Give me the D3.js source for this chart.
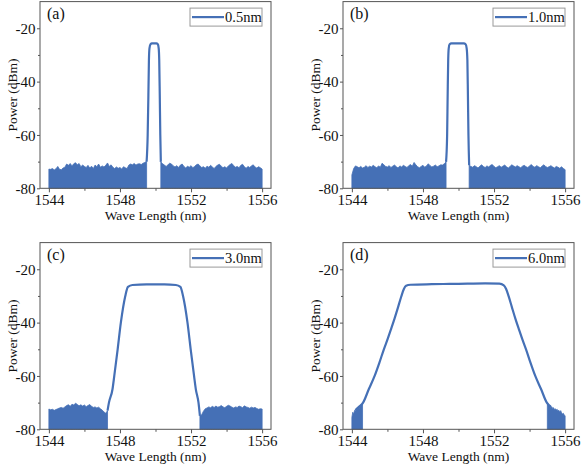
<!DOCTYPE html>
<html>
<head>
<meta charset="utf-8">
<script src="https://cdnjs.cloudflare.com/ajax/libs/d3/7.8.5/d3.min.js"></script>
<style>
    body { margin: 0; background: #fff; }
    svg text { font-family: "Liberation Serif", "Times New Roman", serif; fill: #111; }
</style>
</head>
<body>
<svg id="chart" width="581" height="468"></svg>
<script>
// Panel labels and legend names
var panelLabels = ["(a)", "(b)", "(c)", "(d)"];
var legendNames = ["0.5nm", "1.0nm", "3.0nm", "6.0nm"];

// Axis ticks
var xTicks = [1544, 1548, 1552, 1556];
var xMinor = [1546, 1550, 1554];
var yTicks = [-20, -40, -60, -80];
var yMinor = [-30, -50, -70];

// Noise floor (top of the noisy trace)
// each block: start wavelength, step, values (dBm)
var noiseA = [
    [1544.0, 0.1, [-72.8, -72.9, -72.6, -73.1, -72.7, -71.8, -72.9, -73.0, -72.4, -72.1,
        -70.9, -71.4, -70.7, -71.6, -70.8, -70.4, -71.2, -70.7, -71.9, -71.3,
        -71.8, -72.2, -71.4, -72.4, -71.7, -72.6, -71.3, -71.9, -70.9, -72.1,
        -71.6, -72.0, -71.4, -70.5, -71.8, -71.2, -72.1, -72.6, -72.0, -72.5,
        -72.2, -72.8, -71.9, -72.3, -72.6, -71.3, -70.9, -71.2, -70.7, -71.3,
        -70.9, -70.8, -71.1, -70.6, -70.3, -69.9]],
    [1550.3, 0.1, [-70.1, -70.8, -71.3, -71.8, -71.2, -70.6, -70.9, -71.6, -72.0, -71.5,
        -72.2, -71.3, -70.9, -71.8, -72.4, -71.7, -72.1, -71.5, -72.3, -71.8,
        -71.2, -70.9, -71.6, -72.2, -71.9, -72.5, -71.7, -72.1, -71.4, -72.0,
        -72.6, -71.8, -71.3, -71.0, -71.7, -72.3, -71.9, -72.4, -71.6, -71.1,
        -70.7, -71.5, -72.1, -71.8, -72.3, -71.4, -71.0, -71.9, -72.5, -71.8,
        -72.2, -71.6, -71.2, -72.0, -72.4, -71.9, -72.3, -72.8]]
];
var noiseB = [
    [1544.0, 0.1, [-75.0, -72.6, -71.6, -71.9, -72.3, -71.8, -72.4, -72.1, -71.5, -72.2,
        -71.7, -72.0, -71.4, -71.9, -72.3, -71.6, -72.1, -70.6, -71.2, -71.8,
        -72.0, -71.5, -72.2, -71.7, -71.3, -71.9, -72.4, -71.6, -72.0, -71.4,
        -71.8, -72.2, -71.5, -71.1, -71.7, -70.3, -71.2, -71.9, -72.3, -71.8,
        -71.4, -72.1, -71.6, -70.8, -71.5, -72.0, -71.7, -71.3, -71.9, -71.6,
        -71.2, -71.3, -70.8, -70.1]],
    [1550.6, 0.1, [-71.3, -71.8, -72.1, -71.5, -71.9, -72.4, -71.7, -71.2, -71.8, -72.2,
        -71.6, -72.0, -71.4, -71.1, -71.8, -72.3, -71.9, -71.5, -72.1, -71.7,
        -71.3, -71.9, -72.4, -71.8, -71.2, -71.6, -72.0, -71.5, -71.9, -72.3,
        -71.7, -71.4, -71.9, -72.2, -71.6, -71.1, -71.8, -72.1, -71.5, -71.9,
        -72.3, -71.7, -71.2, -71.8, -72.2, -71.9, -71.5, -72.0, -72.4, -71.8,
        -72.1, -72.5, -71.9, -72.6, -73.0]]
];
var noiseC = [
    [1544.0, 0.1, [-72.4, -72.7, -72.5, -72.9, -72.6, -72.3, -72.0, -71.8, -72.1, -71.6,
        -71.1, -70.8, -71.4, -70.6, -70.9, -70.2, -70.7, -71.2, -70.8, -71.3,
        -70.9, -71.5, -71.1, -70.7, -71.4, -71.8, -71.6, -72.0, -71.7, -72.3,
        -72.8, -73.5, -74.0, -73.0]],
    [1552.5, 0.1, [-75.0, -74.5, -73.2, -72.3, -72.0, -71.6, -71.9, -71.4, -71.8, -71.3,
        -71.7, -71.5, -71.1, -71.6, -71.9, -71.4, -71.0, -71.3, -71.7, -72.0,
        -71.6, -71.8, -71.3, -71.5, -71.9, -71.2, -71.6, -71.8, -72.1, -71.7,
        -72.0, -71.8, -72.2, -72.5, -72.3, -72.4]]
];
var noiseD = [
    [1544.0, 0.05, [-75.5, -73.6, -74.4, -72.9, -73.1, -72.3, -72.6, -71.9, -72.2, -71.6,
        -71.3, -70.9, -70.4]],
    [1555.0, 0.05, [-70.0, -70.6, -71.2, -71.0, -71.8, -71.5, -72.2, -71.9, -72.6, -72.3,
        -72.8, -72.5, -73.1, -72.9, -73.4, -73.0, -73.8, -74.3, -74.0, -74.6, -75.0]]
];

// Filter passband traces [wavelength (nm), power (dBm)]
var traceA = [[1549.50, -70.0], [1549.56, -60], [1549.60, -45], [1549.63, -32], [1549.66, -27.5],
    [1549.72, -26.0], [1549.80, -25.7], [1550.05, -25.7], [1550.13, -26.0], [1550.18, -27.5],
    [1550.21, -32], [1550.24, -45], [1550.27, -60], [1550.30, -70.1]];
var traceB = [[1549.30, -70.1], [1549.36, -60], [1549.39, -45], [1549.42, -32], [1549.45, -27.5],
    [1549.50, -26.0], [1549.60, -25.7], [1550.30, -25.7], [1550.40, -26.0], [1550.46, -27.5],
    [1550.50, -32], [1550.53, -45], [1550.56, -60], [1550.60, -71.3]];
var traceC = [[1547.30, -73.0], [1547.38, -70], [1547.58, -65], [1547.68, -60], [1547.87, -50],
    [1548.05, -40], [1548.30, -30], [1548.45, -26.6], [1548.70, -25.9], [1549.50, -25.7],
    [1550.50, -25.7], [1551.15, -25.9], [1551.40, -26.6], [1551.55, -30], [1551.80, -40],
    [1551.98, -50], [1552.17, -60], [1552.27, -65], [1552.42, -70], [1552.50, -75.0]];
var traceD = [[1544.20, -72.8], [1544.40, -71.6], [1544.63, -70], [1544.95, -65], [1545.28, -60],
    [1545.55, -55], [1545.80, -50], [1546.02, -46], [1546.20, -42.5], [1546.40, -38.5],
    [1546.60, -34.2], [1546.78, -30.2], [1546.92, -27.5], [1547.05, -26.2], [1547.30, -25.8],
    [1548.50, -25.6], [1549.50, -25.5], [1550.50, -25.4], [1551.50, -25.3], [1552.30, -25.4],
    [1552.55, -26.0], [1552.68, -27.4], [1552.82, -30.1], [1553.00, -34.1], [1553.20, -38.5],
    [1553.40, -42.5], [1553.58, -46], [1553.80, -50], [1554.05, -55], [1554.32, -60],
    [1554.65, -65], [1554.97, -70], [1555.20, -71.6]];

var noiseSets = [noiseA, noiseB, noiseC, noiseD];
var traces = [traceA, traceB, traceC, traceD];

// Layout of the four panels
var panelW = 231,
    panelH = 186.7;
var origins = [[40, 1.6], [343, 1.6], [40, 242.6], [343, 242.6]];
var blue = "#4570b6";
var serif = "'Liberation Serif', 'Times New Roman', serif";

var svg = d3.select("#chart")
    .attr("font-family", serif);

origins.forEach(function (o, i) {
    var g = svg.append("g")
        .attr("transform", "translate(" + o[0] + "," + o[1] + ")");

    var x = d3.scaleLinear().domain([1543.5, 1556.5]).range([0, panelW]);
    var y = d3.scaleLinear().domain([-80, -10]).range([panelH, 0]);

    // noise floor as filled area
    var area = d3.area()
        .x(function (d) { return x(d[0]); })
        .y0(y(-80))
        .y1(function (d) { return y(d[1]); });

    noiseSets[i].forEach(function (blk) {
        var pts = blk[2].map(function (v, k) { return [blk[0] + k * blk[1], v]; });
        g.append("path")
            .datum(pts)
            .attr("d", area)
            .attr("fill", blue)
            .attr("stroke", blue)
            .attr("stroke-width", 0.8);
    });

    // passband trace
    var line = d3.line()
        .x(function (d) { return x(d[0]); })
        .y(function (d) { return y(d[1]); })
        .curve(d3.curveMonotoneX);

    g.append("path")
        .datum(traces[i])
        .attr("d", line)
        .attr("fill", "none")
        .attr("stroke", blue)
        .attr("stroke-width", 2.2)
        .attr("stroke-linejoin", "round");

    // axes
    g.append("g")
        .attr("transform", "translate(0," + panelH + ")")
        .call(d3.axisBottom(x).tickValues(xTicks).tickSize(4).tickFormat(d3.format("d")))
        .attr("font-family", serif)
        .attr("font-size", 15)
        .selectAll("text")
        .attr("dy", null)
        .attr("y", 16.8);

    g.append("g")
        .attr("transform", "translate(0," + panelH + ")")
        .call(d3.axisBottom(x).tickValues(xMinor).tickSize(2.5).tickFormat(""));

    g.append("g")
        .call(d3.axisLeft(y).tickValues(yTicks).tickSize(3).tickPadding(1.5)
            .tickFormat(function (d) { return "-" + Math.abs(d); }))
        .attr("font-family", serif)
        .attr("font-size", 15)
        .selectAll("text")
        .attr("dy", "0.34em");

    g.append("g")
        .call(d3.axisLeft(y).tickValues(yMinor).tickSize(2).tickFormat(""));

    g.selectAll(".domain").remove();
    g.selectAll(".tick line").attr("stroke", "#555");
    g.selectAll(".tick text").attr("fill", "#111");

    // frame
    g.append("rect")
        .attr("width", panelW)
        .attr("height", panelH)
        .attr("fill", "none")
        .attr("stroke", "#555")
        .attr("stroke-width", 1);

    // axis titles
    g.append("text")
        .attr("x", panelW / 2)
        .attr("y", panelH + 31.7)
        .attr("font-size", 13.5)
        .style("text-anchor", "middle")
        .text("Wave Length (nm)");

    g.append("text")
        .attr("transform", "translate(-23," + (panelH / 2) + ") rotate(-90)")
        .attr("font-size", 13.5)
        .style("text-anchor", "middle")
        .text("Power (dBm)");

    // panel label
    g.append("text")
        .attr("x", 7)
        .attr("y", 17.5)
        .attr("font-size", 16)
        .text(panelLabels[i]);

    // legend
    var lg = g.append("g").attr("transform", "translate(" + (panelW - 81) + ",6.5)");
    lg.append("rect")
        .attr("width", 72)
        .attr("height", 18)
        .attr("fill", "#fff")
        .attr("stroke", "#999")
        .attr("stroke-width", 1);
    lg.append("line")
        .attr("x1", 2).attr("x2", 34)
        .attr("y1", 9).attr("y2", 9)
        .attr("stroke", blue)
        .attr("stroke-width", 2.2);
    lg.append("text")
        .attr("x", 35)
        .attr("y", 14)
        .attr("font-size", 14.5)
        .text(legendNames[i]);
});
</script>
</body>
</html>
